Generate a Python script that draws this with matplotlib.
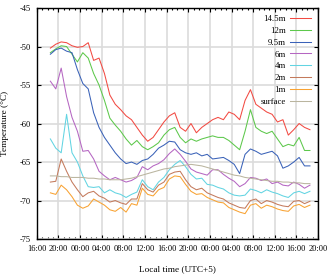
import numpy as np
import matplotlib
matplotlib.use('Agg')
import matplotlib.pyplot as plt
from matplotlib.ticker import MultipleLocator

# hours counted from 16:00 on the first day, one reading per hour
hours = np.arange(2.5, 51.0, 1.0)

t145 = [-50.2, -49.7, -49.4, -49.5, -49.9, -50.1, -50.0, -49.5, -51.8, -51.5,
        -53.5, -56.3, -57.5, -58.2, -59.0, -59.5, -60.5, -61.5, -62.3, -61.8,
        -60.8, -59.8, -59.0, -58.6, -60.5, -61.0, -60.0, -61.2, -60.5, -60.0,
        -59.5, -59.2, -59.5, -58.5, -58.8, -59.5, -57.0, -55.6, -57.5, -58.0,
        -58.5, -58.8, -59.8, -59.5, -61.5, -60.8, -60.0, -60.5, -60.8]
t12 = [-50.8, -50.3, -49.9, -50.0, -51.0, -52.0, -50.8, -51.5, -53.5, -55.0,
       -57.0, -59.3, -60.2, -61.0, -62.0, -62.8, -62.2, -63.0, -63.4, -63.0,
       -62.5, -61.5, -60.8, -60.5, -61.8, -62.5, -62.0, -62.3, -62.0, -61.8,
       -61.6, -61.8, -61.8, -62.2, -62.8, -63.4, -61.0, -58.2, -60.5, -61.0,
       -61.3, -61.0, -62.0, -63.0, -62.7, -62.9, -61.8, -63.5, -63.5]
t95 = [-51.0, -50.4, -50.2, -50.6, -50.8, -53.0, -54.8, -55.5, -58.6, -60.5,
       -61.8, -62.8, -63.8, -64.6, -65.2, -65.0, -65.3, -64.8, -64.6, -64.0,
       -63.2, -62.8, -62.3, -62.4, -63.4, -63.8, -64.0, -63.8, -64.2, -64.0,
       -64.6, -64.5, -64.4, -64.8, -65.3, -66.5, -64.0, -63.3, -63.6, -64.0,
       -63.8, -63.6, -64.2, -65.8, -65.5, -65.0, -64.4, -65.5, -65.5]
t6 = [-54.5, -55.5, -52.8, -56.5, -59.2, -61.0, -63.6, -63.5, -64.6, -66.2,
      -66.8, -67.3, -67.0, -67.3, -67.6, -67.4, -67.0, -65.6, -66.0, -65.5,
      -65.2, -64.7, -63.9, -63.3, -64.0, -64.9, -65.9, -66.3, -66.5, -66.7,
      -66.0, -66.0, -66.6, -67.1, -67.5, -68.2, -67.8, -67.0, -67.1, -67.4,
      -67.2, -67.8, -67.6, -68.0, -68.1, -67.6, -67.9, -68.4, -68.0]
t4 = [-62.0, -63.2, -63.8, -58.8, -63.8, -65.0, -66.8, -68.2, -68.3, -68.2,
      -69.0, -68.6, -69.0, -69.2, -69.6, -69.2, -68.9, -67.3, -68.2, -68.6,
      -67.6, -67.0, -66.0, -65.3, -64.8, -65.6, -66.6, -67.2, -67.1, -67.9,
      -68.0, -68.3, -68.5, -69.0, -69.3, -69.4, -69.3, -68.5, -68.7, -69.0,
      -68.6, -68.9, -69.1, -69.4, -69.6, -69.0, -68.8, -69.1, -68.8]
t2 = [-67.6, -67.5, -64.6, -66.2, -67.6, -68.6, -69.5, -69.0, -68.8, -69.4,
      -69.7, -70.2, -70.0, -70.3, -70.5, -69.8, -69.8, -67.8, -68.6, -68.9,
      -68.0, -67.6, -66.6, -66.3, -66.2, -67.3, -68.2, -68.6, -68.4, -69.0,
      -69.3, -69.6, -69.8, -70.3, -70.6, -70.9, -71.0, -70.0, -69.8, -70.4,
      -70.0, -70.2, -70.5, -70.7, -70.8, -70.1, -70.0, -70.4, -70.1]
t1 = [-69.0, -69.2, -68.0, -68.6, -69.5, -70.6, -71.0, -70.7, -69.8, -70.2,
      -70.6, -71.2, -71.4, -70.9, -71.5, -70.4, -70.6, -68.4, -69.2, -69.4,
      -68.6, -68.3, -67.2, -66.8, -66.9, -67.9, -68.8, -69.2, -69.1, -69.6,
      -69.9, -70.2, -70.3, -70.9, -71.2, -71.5, -71.7, -70.6, -70.4, -71.0,
      -70.6, -70.8, -71.1, -71.3, -71.4, -70.7, -70.5, -70.9, -70.6]
tsurf = [-66.8, -66.8, -66.9, -66.9, -67.0, -67.0, -67.0, -67.1, -67.1, -67.2,
         -67.2, -67.3, -67.3, -67.3, -67.2, -67.1, -66.9, -66.7, -66.5, -66.3,
         -66.1, -65.9, -65.8, -65.6, -65.5, -65.4, -65.3, -65.4, -65.5, -65.7,
         -65.9, -66.1, -66.3, -66.5, -66.7, -66.8, -67.0, -67.1, -67.2, -67.3,
         -67.4, -67.5, -67.5, -67.6, -67.6, -67.7, -67.7, -67.8, -67.8]

labels = ['14.5m', '12m', '9.5m', '6m', '4m', '2m', '1m', 'surface']
colors = ['#f24a42', '#5dc84b', '#3a62b8', '#b566c2', '#62d4e2',
          '#c47a5c', '#f8a232', '#bab59f']
xticklabels = ['16:00', '20:00', '00:00', '04:00', '08:00', '12:00', '16:00',
               '20:00', '00:00', '04:00', '08:00', '12:00', '16:00', '20:00']

plt.rcParams['font.family'] = ['Liberation Serif', 'DejaVu Serif']
plt.rcParams['axes.unicode_minus'] = False

fig = plt.figure(figsize=(3.32, 2.77), dpi=100)
ax = fig.add_axes([0.111, 0.137, 0.847, 0.834])

series = [t145, t12, t95, t6, t4, t2, t1, tsurf]
for ys, lab, col in zip(series, labels, colors):
    ax.plot(hours, ys, color=col, lw=0.75, label=lab)

ax.set_xlim(0, 52)
ax.set_ylim(-75, -45)
ax.xaxis.set_minor_locator(MultipleLocator(1))
ax.yaxis.set_major_locator(MultipleLocator(5))
ax.set_xticks(np.arange(0, 53, 4))
ax.set_xticklabels(xticklabels)
ax.grid(True, color='#dcdcdc', lw=1.2)
ax.set_axisbelow(True)
ax.tick_params(which='both', direction='in', top=True, right=True,
               labelsize=6, pad=4, width=0.8)
ax.tick_params(which='major', length=3)
ax.tick_params(which='minor', length=1.5)
for s in ax.spines.values():
    s.set_linewidth(1.0)

ax.set_xlabel('Local time (UTC+5)', fontsize=6.7, labelpad=9)
ax.set_ylabel('Temperature (°C)', fontsize=6.7, labelpad=8)

ax.legend(loc='upper right', fontsize=6.3, frameon=False, markerfirst=False,
          handlelength=2.4, labelspacing=0.42, borderaxespad=0.4,
          handletextpad=0.5)

fig.savefig('out.png', dpi=100)
